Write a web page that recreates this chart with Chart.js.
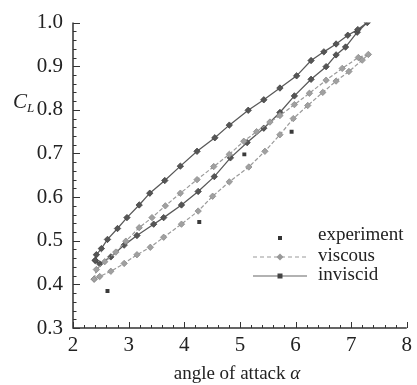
<!DOCTYPE html>
<html><head><meta charset="utf-8">
<script src="https://cdn.jsdelivr.net/npm/chart.js@4.4.0/dist/chart.umd.min.js"></script>
<style>html,body{margin:0;padding:0;background:#fff}#wrap{width:417px;height:385px}</style>
</head><body><div id="wrap"><canvas id="c" width="417" height="385"></canvas></div>
<script>
// ---- data ----
const xTicks = [2, 3, 4, 5, 6, 7, 8];
const yTicks = [0.3, 0.4, 0.5, 0.6, 0.7, 0.8, 0.9, 1.0];

const expAlpha = [2.62, 4.27, 5.08, 5.93];
const expCL    = [0.385, 0.543, 0.698, 0.750];

// inviscid: lower branch (increasing alpha) then upper branch (decreasing alpha)
const invAlpha = [2.40, 2.48, 2.68, 2.92, 3.15, 3.45, 3.63, 3.95, 4.25, 4.54, 4.83, 5.13, 5.43, 5.72, 5.98, 6.28, 6.55, 6.73, 6.90, 7.11, 7.29,
                  7.12, 6.94, 6.73, 6.51, 6.28, 6.02, 5.72, 5.43, 5.15, 4.81, 4.55, 4.23, 3.93, 3.65, 3.38, 3.19, 2.97, 2.80, 2.62, 2.51, 2.42, 2.40];
const invCL    = [0.455, 0.447, 0.463, 0.490, 0.512, 0.538, 0.553, 0.582, 0.613, 0.647, 0.690, 0.725, 0.758, 0.794, 0.832, 0.870, 0.899, 0.926, 0.944, 0.978, 1.000,
                  0.984, 0.971, 0.951, 0.933, 0.913, 0.878, 0.850, 0.823, 0.799, 0.765, 0.736, 0.705, 0.671, 0.638, 0.609, 0.582, 0.553, 0.528, 0.503, 0.482, 0.468, 0.455];

// viscous: upper branch (increasing alpha) then lower branch (decreasing alpha)
const visAlpha = [2.38, 2.42, 2.57, 2.77, 2.95, 3.19, 3.42, 3.66, 3.93, 4.23, 4.53, 4.81, 5.07, 5.30, 5.54, 5.72, 5.98, 6.25, 6.55, 6.84, 7.13, 7.31,
                  7.20, 6.96, 6.73, 6.49, 6.22, 5.96, 5.72, 5.45, 5.16, 4.81, 4.51, 4.25, 3.95, 3.63, 3.39, 3.15, 2.92, 2.68, 2.48, 2.38];
const visCL    = [0.412, 0.434, 0.452, 0.474, 0.499, 0.530, 0.553, 0.580, 0.609, 0.640, 0.670, 0.698, 0.728, 0.750, 0.772, 0.787, 0.812, 0.838, 0.868, 0.895, 0.920, 0.927,
                  0.914, 0.888, 0.866, 0.840, 0.810, 0.780, 0.743, 0.705, 0.669, 0.635, 0.602, 0.568, 0.538, 0.508, 0.485, 0.468, 0.448, 0.430, 0.418, 0.412];

const legendLabels = ['experiment', 'viscous', 'inviscid'];

const toPts = (xs, ys) => xs.map((x, i) => ({x: x, y: ys[i]}));

const SERIF = '"Liberation Serif", "Times New Roman", serif';

const decor = {
  id: 'decor',
  afterDraw(chart) {
    const ctx = chart.ctx, xs = chart.scales.x, ys = chart.scales.y;
    const L = xs.left, R = xs.right, T = ys.top, B = ys.bottom;
    ctx.save();
    ctx.strokeStyle = '#333';
    ctx.lineWidth = 1.5;
    ctx.beginPath();
    ctx.moveTo(L, T); ctx.lineTo(L, B); ctx.lineTo(R, B);
    ctx.stroke();
    ctx.lineWidth = 1;
    ctx.beginPath();
    for (let i = 0; i <= 30; i++) {
      const v = 2 + i * 0.2;
      const p = Math.round(xs.getPixelForValue(v)) + 0.5;
      const len = (i % 5 === 0) ? 6 : 3;
      ctx.moveTo(p, B); ctx.lineTo(p, B - len);
    }
    for (let i = 0; i <= 35; i++) {
      const v = 0.3 + i * 0.02;
      const p = Math.round(ys.getPixelForValue(v)) + 0.5;
      const len = (i % 5 === 0) ? 7 : 3.5;
      ctx.moveTo(L, p); ctx.lineTo(L + len, p);
    }
    ctx.stroke();

    // y-axis title C_L
    ctx.fillStyle = '#222';
    ctx.textBaseline = 'alphabetic';
    ctx.textAlign = 'left';
    ctx.font = 'italic 21px ' + SERIF;
    ctx.fillText('C', 13, 108);
    ctx.font = 'italic 13px ' + SERIF;
    ctx.fillText('L', 27, 112);

    // x-axis title
    ctx.textAlign = 'center';
    ctx.font = '19px ' + SERIF;
    ctx.fillText('angle of attack ', 232, 379);
    const w = ctx.measureText('angle of attack ').width;
    ctx.font = 'italic 19px ' + SERIF;
    ctx.textAlign = 'left';
    ctx.fillText('\u03b1', 232 + w / 2, 379);

    // legend
    const rows = [236, 257, 276];
    ctx.font = '19px ' + SERIF;
    ctx.textBaseline = 'middle';
    ctx.fillStyle = '#222';
    legendLabels.forEach((t, i) => ctx.fillText(t, 318, rows[i] - 1));
    // experiment marker
    ctx.fillStyle = '#333';
    ctx.fillRect(278, rows[0], 4, 4);
    // viscous
    ctx.strokeStyle = '#999';
    ctx.lineWidth = 1.2;
    ctx.setLineDash([4, 3]);
    ctx.beginPath(); ctx.moveTo(253, rows[1]); ctx.lineTo(307, rows[1]); ctx.stroke();
    ctx.setLineDash([]);
    ctx.fillStyle = '#999';
    ctx.beginPath(); ctx.moveTo(280, rows[1] - 3.5); ctx.lineTo(283.5, rows[1]); ctx.lineTo(280, rows[1] + 3.5); ctx.lineTo(276.5, rows[1]); ctx.closePath(); ctx.fill();
    // inviscid
    ctx.strokeStyle = '#666';
    ctx.beginPath(); ctx.moveTo(253, rows[2]); ctx.lineTo(307, rows[2]); ctx.stroke();
    ctx.fillStyle = '#444';
    ctx.fillRect(277.5, rows[2] - 2.5, 5, 5);
    ctx.restore();
  }
};

new Chart(document.getElementById('c'), {
  type: 'scatter',
  data: {
    datasets: [
      {
        label: 'viscous', data: toPts(visAlpha, visCL), showLine: true,
        borderColor: '#9a9a9a', borderWidth: 1.2, borderDash: [4, 2],
        pointStyle: 'rectRot', pointRadius: 3.2, pointBackgroundColor: '#a0a0a0', pointBorderColor: '#8c8c8c', pointBorderWidth: 0.8,
        tension: 0
      },
      {
        label: 'inviscid', data: toPts(invAlpha, invCL), showLine: true,
        borderColor: '#5a5a5a', borderWidth: 1.3,
        pointStyle: 'rectRot', pointRadius: 3.2, pointBackgroundColor: '#555', pointBorderColor: '#444', pointBorderWidth: 0.8,
        tension: 0
      },
      {
        label: 'experiment', data: toPts(expAlpha, expCL), showLine: false,
        pointStyle: 'rect', pointRadius: 2.8, pointBackgroundColor: '#3a3a3a', pointBorderColor: '#3a3a3a', pointBorderWidth: 0
      }
    ]
  },
  options: {
    responsive: false,
    animation: false,
    devicePixelRatio: 1,
    layout: { padding: { top: 15, right: 5, left: 0, bottom: 0 } },
    plugins: { legend: { display: false }, tooltip: { enabled: false } },
    scales: {
      x: {
        type: 'linear', min: 2, max: 8,
        afterBuildTicks: s => { s.ticks = xTicks.map(v => ({value: v})); },
        afterFit: s => { s.height = 57; },
        grid: { display: false, drawTicks: false },
        border: { display: false },
        ticks: { color: '#222', font: { family: SERIF, size: 21 }, padding: 5, maxRotation: 0, callback: v => String(v) }
      },
      y: {
        type: 'linear', min: 0.3, max: 1.0,
        afterBuildTicks: s => { s.ticks = yTicks.map(v => ({value: v})); },
        afterFit: s => { s.width = 73; },
        grid: { display: false, drawTicks: false },
        border: { display: false },
        ticks: { color: '#222', font: { family: SERIF, size: 21 }, padding: 10, callback: v => Number(v).toFixed(1) }
      }
    }
  },
  plugins: [decor]
});
</script></body></html>
